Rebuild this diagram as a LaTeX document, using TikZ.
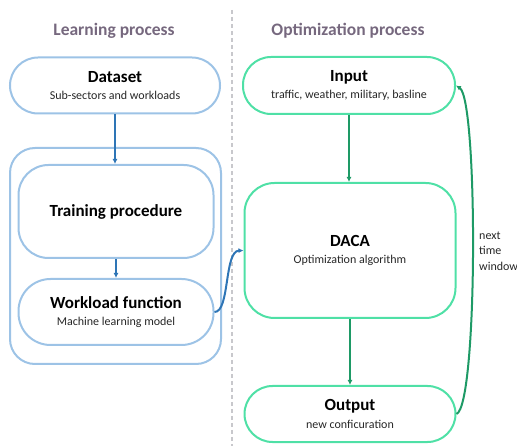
\documentclass[tikz,border=0pt]{standalone}
\usepackage{fontspec}
\setmainfont{Carlito}
\usetikzlibrary{arrows.meta}
\definecolor{bluebox}{HTML}{9DC3E6}
\definecolor{bluearrow}{HTML}{2E75B6}
\definecolor{greenbox}{HTML}{4FE0A6}
\definecolor{greenarrow}{HTML}{1E9A66}
\definecolor{titlecol}{HTML}{76687E}
\definecolor{subcol}{HTML}{262626}
\definecolor{dashcol}{HTML}{C8C8CC}
\tikzset{
  boxb/.style={draw=bluebox, line width=2pt, align=center, inner sep=0pt, font=\fontsize{17}{17.5}\selectfont},
  boxg/.style={draw=greenbox, line width=2pt, align=center, inner sep=0pt, font=\fontsize{17}{17.5}\selectfont},
  arb/.style={draw=bluearrow, line width=2pt, -{Latex[length=5pt,width=5pt]}},
  arg/.style={draw=greenarrow, line width=2pt, -{Latex[length=5pt,width=5pt]}},
  sub/.style={font=\fontsize{12}{14}\selectfont, text=subcol},
  ttl/.style={font=\fontsize{17.5}{20}\selectfont\bfseries, text=titlecol}
}
\newcommand{\hd}[1]{{\bfseries #1}}
\newcommand{\sbt}[1]{{\fontsize{12}{14}\selectfont\color{subcol}#1}}
\begin{document}
\begin{tikzpicture}[x=1pt,y=-1pt]
\useasboundingbox (0,0) rectangle (517,446);
% titles
\node[ttl] (t1) at (114,31) {Learning process};
\node[ttl] (t2) at (348,31) {Optimization process};
% divider
\coordinate (d1) at (232,10);
\coordinate (d2) at (232,446);
\draw[dashcol, line width=1.5pt, dash pattern=on 4pt off 3pt] (d1) -- (d2);
% left side
\node[boxb, rounded corners=28pt, minimum width=210pt, minimum height=56pt] (data) at (115,85.5)
  {\hd{Dataset}\\\sbt{Sub-sectors and workloads}};
\node[boxb, rounded corners=25pt, minimum width=211pt, minimum height=216pt] (outer) at (115.5,256) {};
\node[boxb, rounded corners=30pt, minimum width=195pt, minimum height=93pt] (train) at (116,211.5)
  {\hd{Training procedure}};
\node[boxb, rounded corners=32pt, minimum width=195pt, minimum height=66pt] (work) at (116,312)
  {\hd{Workload function}\\\sbt{Machine learning model}};
% right side
\node[boxg, rounded corners=28pt, minimum width=212pt, minimum height=57pt] (input) at (349,85.5)
  {\hd{Input}\\\sbt{traffic, weather, military, basline}};
\node[boxg, rounded corners=30pt, minimum width=211pt, minimum height=135pt] (daca) at (350,250.5)
  {\hd{DACA}\\\sbt{Optimization algorithm}};
\node[boxg, rounded corners=28pt, minimum width=211pt, minimum height=56pt] (output) at (350,414)
  {\hd{Output}\\\sbt{new conficuration}};
% arrows
\draw[arb] (data.south) -- (data.south |- train.north);
\draw[arb] (train.south) -- (work.north);
\draw[arb] (work.east) .. controls (230,312) and (224,251) .. (daca.west);
\draw[arg] (input.south) -- (input.south |- daca.north);
\draw[arg] (daca.south) -- (output.north);
\draw[arg] (output.east) .. controls (478,405) and (478,100) .. (input.east);
\node[sub, anchor=west, align=left, inner sep=0pt, font=\fontsize{12}{15.5}\selectfont] (lbl) at (479,251) {next\\time\\window};
\end{tikzpicture}
\end{document}
